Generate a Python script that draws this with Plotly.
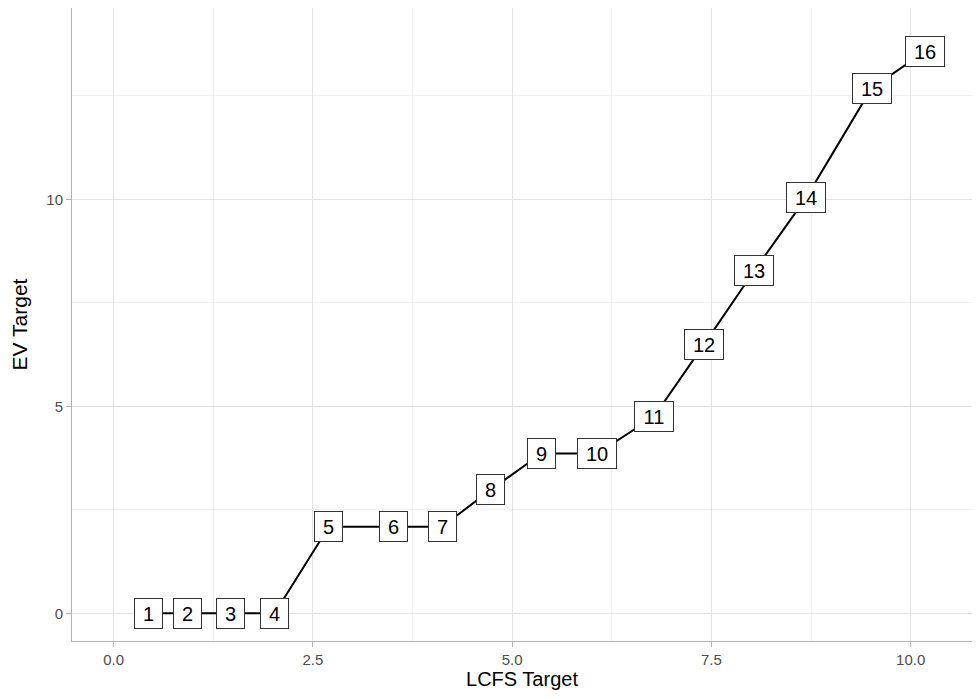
import plotly.graph_objects as go

labels = ["1", "2", "3", "4", "5", "6", "7", "8", "9", "10", "11", "12", "13", "14", "15", "16"]
lcfs_target = [0.44, 0.93, 1.46, 2.02, 2.70, 3.51, 4.12, 4.73, 5.37, 6.07, 6.78, 7.41, 8.04, 8.69, 9.51, 10.18]
ev_target = [0.0, 0.0, 0.0, 0.0, 2.09, 2.09, 2.09, 2.98, 3.86, 3.86, 4.75, 6.50, 8.28, 10.04, 12.68, 13.57]

x_ticks = [0, 2.5, 5, 7.5, 10]
x_ticklabels = ["0.0", "2.5", "5.0", "7.5", "10.0"]
y_ticks = [0, 5, 10]
y_ticklabels = ["0", "5", "10"]

FONT = "Liberation Sans, Arial, sans-serif"

fig = go.Figure()
fig.add_trace(go.Scatter(
    x=lcfs_target, y=ev_target, mode="lines",
    line=dict(color="black", width=2), hoverinfo="skip", showlegend=False,
))

for lab, xv, yv in zip(labels, lcfs_target, ev_target):
    fig.add_annotation(
        x=xv, y=yv, xref="x", yref="y", text=lab, showarrow=False,
        font=dict(family=FONT, size=20, color="black"),
        bgcolor="white", bordercolor="#333333", borderwidth=1, borderpad=3,
        width=21 if len(lab) == 1 else 32, height=23, align="center",
    )

axis_common = dict(
    showgrid=True, gridcolor="#e3e3e3", gridwidth=1,
    zeroline=False, showline=True, linecolor="#b3b3b3", linewidth=1,
    ticks="outside", ticklen=5, tickcolor="#b3b3b3", tickwidth=1,
    tickfont=dict(family=FONT, size=15, color="#4d4d4d"),
    automargin=False,
)

fig.update_xaxes(
    **axis_common, range=[-0.523, 10.77], tickvals=x_ticks, ticktext=x_ticklabels,
    mirror=True,
    minor=dict(showgrid=True, gridcolor="#f0f0f0", gridwidth=1, tickvals=[1.25, 3.75, 6.25, 8.75], ticks=""),
    title=dict(text="LCFS Target", font=dict(family=FONT, size=20, color="black"), standoff=2),
)
fig.update_yaxes(
    **axis_common, range=[-0.669, 14.62], tickvals=y_ticks, ticktext=y_ticklabels,
    minor=dict(showgrid=True, gridcolor="#f0f0f0", gridwidth=1, tickvals=[2.5, 7.5, 12.5], ticks=""),
    title=dict(text="EV Target", font=dict(family=FONT, size=21, color="black"), standoff=12),
)

fig.update_layout(
    width=964, height=682,
    margin=dict(l=64, r=0, t=0, b=49),
    plot_bgcolor="white", paper_bgcolor="white",
    showlegend=False,
)

fig.write_html("out.html")
